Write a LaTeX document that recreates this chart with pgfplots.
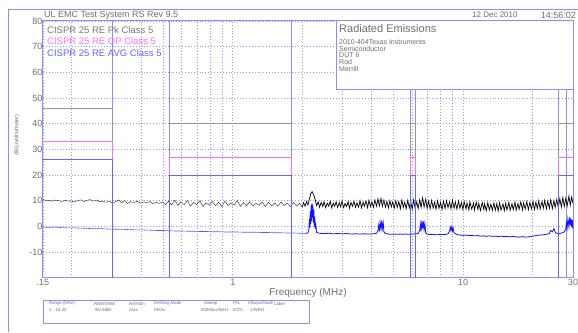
\documentclass[border=0pt]{standalone}
\usepackage{fontspec}
\setmainfont{Liberation Sans}
\usepackage{pgfplots}
\pgfplotsset{compat=1.18}
\definecolor{gridblue}{RGB}{150,150,255}
\definecolor{frameblue}{RGB}{140,140,255}
\definecolor{txtgray}{RGB}{110,110,110}
\definecolor{pkgray}{RGB}{150,150,150}
\definecolor{qpmag}{RGB}{255,110,255}
\definecolor{avgblue}{RGB}{100,100,255}
\definecolor{traceblue}{RGB}{20,20,255}
\begin{document}
\begin{tikzpicture}[x=1pt,y=1pt]
\begin{axis}[
  at={(43pt,54pt)}, anchor=south west,
  scale only axis, width=530pt, height=257pt,
  xmode=log, xmin=0.15, xmax=30, ymin=-20, ymax=80,
  axis line style={frameblue, line width=1pt},
  xtick={0.15,1,10,30}, xticklabels={.15,1,10,30},
  minor xtick={0.2,0.3,0.4,0.5,0.6,0.7,0.8,0.9,2,3,4,5,6,7,8,9,20},
  extra x ticks={0.3,0.53,1.8,5.9,6.2,26,28},
  extra x tick labels={},
  extra x tick style={grid=major, major grid style={frameblue, solid, line width=1pt}},
  ytick={-10,0,10,20,30,40,50,60,70,80},
  yticklabels={-10,0,10,20,30,40,50,60,70,80},
  major tick length=0pt, minor tick length=0pt,
  xmajorgrids, xminorgrids, ymajorgrids,
  major grid style={gridblue, line width=0.9pt, dash pattern=on 0.9pt off 2pt},
  minor grid style={gridblue, line width=0.9pt, dash pattern=on 0.9pt off 2pt},
  tick label style={font=\fontsize{9}{10}\selectfont, text=txtgray},
  yticklabel style={inner sep=0.5pt, anchor=east},
  xticklabel style={inner sep=1pt, anchor=north},
]
% average trace, low band
\addplot[color=traceblue!70!white, line width=0.6pt] coordinates {
(0.150,-0.2)(0.160,-0.3)(0.170,-0.2)(0.181,-0.4)(0.193,-0.5)(0.205,-0.5)(0.219,-0.6)(0.233,-0.7)(0.248,-0.8)(0.264,-0.8)
(0.281,-0.9)(0.299,-1.0)(0.319,-1.1)(0.339,-1.1)(0.361,-1.2)(0.385,-1.3)(0.410,-1.3)(0.436,-1.4)(0.464,-1.5)(0.494,-1.5)
(0.526,-1.6)(0.560,-1.7)(0.596,-1.7)(0.635,-1.8)(0.676,-1.8)(0.719,-1.9)(0.766,-1.9)(0.815,-2.0)(0.868,-2.0)(0.924,-2.1)
(0.983,-2.1)(1.046,-2.1)(1.113,-2.2)(1.184,-2.2)(1.261,-2.2)(1.342,-2.3)(1.429,-2.3)(1.521,-2.4)(1.619,-2.4)(1.723,-2.5)
(1.835,-2.5)(1.953,-2.6)(2.06,-2.6)};
% average trace, high band
\addplot[color=traceblue, line width=0.8pt] coordinates {
(2.06,-2.6)(2.12,-2.5)
(2.14,-1.0)(2.15,3.0)(2.16,-0.5)(2.17,6.0)(2.18,1.0)(2.19,8.5)(2.20,2.0)(2.21,9.0)(2.22,3.5)(2.23,8.2)
(2.24,1.5)(2.25,6.5)(2.26,0.0)(2.27,4.0)(2.28,-1.0)(2.29,1.5)(2.31,-2.2)
(2.38,-2.6)(2.49,-2.7)(2.61,-2.6)(2.73,-2.8)(2.85,-2.7)(2.98,-2.8)(3.12,-2.7)(3.26,-2.9)(3.41,-2.8)(3.57,-2.9)
(3.73,-2.8)(3.90,-2.9)(4.08,-2.8)(4.21,-2.6)(4.27,-1.5)(4.30,0.5)(4.33,-1.8)(4.36,1.8)(4.40,-1.0)(4.43,2.3)
(4.46,-0.8)(4.50,1.6)(4.53,-2.0)(4.60,-2.7)(4.74,-2.9)(4.88,-3.0)(5.03,-2.9)(5.18,-3.0)(5.34,-2.9)(5.50,-3.0)
(5.66,-2.9)(5.84,-3.0)(6.01,-2.9)(6.19,-2.8)(6.38,-2.7)(6.48,-1.5)(6.52,1.0)(6.57,-1.8)(6.62,2.3)(6.67,-0.8)
(6.72,2.0)(6.77,-1.2)(6.82,1.2)(6.88,-2.4)(6.98,-2.9)(7.19,-3.1)(7.41,-3.0)(7.63,-3.2)(7.86,-3.1)(8.10,-3.0)
(8.35,-3.1)(8.60,-2.8)(8.73,-1.8)(8.80,-0.3)(8.86,-1.5)(8.93,0.0)(8.99,-1.8)(9.06,-0.6)(9.13,-2.4)(9.40,-3.1)
(9.69,-3.3)(9.98,-3.4)(10.3,-3.3)(10.6,-3.5)(10.9,-3.4)(11.2,-3.6)(11.6,-3.5)(11.9,-3.7)(12.3,-3.6)(12.6,-3.8)
(13.0,-3.6)(13.4,-3.8)(13.8,-3.7)(14.2,-3.9)(14.6,-3.7)(15.1,-3.9)(15.5,-3.8)(16.0,-4.0)(16.5,-3.8)(17.0,-4.0)
(17.5,-4.1)(18.1,-3.9)(18.6,-4.1)(19.2,-4.0)(19.8,-3.8)(20.4,-3.6)(21.0,-3.4)(21.6,-3.3)(22.3,-3.2)(23.0,-3.0)
(23.7,-2.7)(24.0,-1.5)(24.4,-2.0)(24.8,-0.8)(25.1,-2.2)(25.5,-2.6)(25.9,-2.8)(26.3,-2.7)(26.7,-2.5)(27.1,-2.4)
(27.5,-2.0)(27.9,-1.0)(28.1,1.5)(28.3,-0.5)(28.5,3.0)(28.8,0.0)(29.0,3.6)(29.2,0.5)(29.4,3.2)(29.6,-0.2)
(29.8,2.5)(30.0,-1.0)};
% peak trace, low band
\addplot[color=black!75, line width=0.5pt] coordinates {
(0.150,10.6)(0.155,10.0)(0.160,10.2)(0.165,9.9)(0.170,10.3)(0.175,10.1)(0.181,9.8)(0.187,10.2)(0.193,9.9)(0.199,10.0)
(0.205,9.6)(0.212,10.1)(0.219,10.4)(0.226,9.8)(0.233,10.2)(0.240,10.5)(0.248,9.9)(0.256,10.3)(0.264,9.7)(0.272,9.9)
(0.281,9.5)(0.290,9.8)(0.299,9.2)(0.309,9.6)(0.319,10.4)(0.329,9.3)(0.339,10.1)(0.350,9.0)(0.361,9.7)(0.373,9.4)
(0.385,9.9)(0.397,9.1)(0.410,9.6)(0.423,9.2)(0.436,9.8)(0.450,8.9)(0.464,9.5)(0.479,9.0)(0.494,9.6)(0.510,8.6)
(0.526,9.9)(0.543,8.4)(0.560,10.3)(0.578,8.2)(0.596,9.7)(0.615,8.5)(0.635,10.1)(0.655,8.0)(0.676,9.4)(0.697,8.6)
(0.719,10.0)(0.742,7.9)(0.766,9.2)(0.790,8.3)(0.815,9.8)(0.841,8.1)(0.868,9.5)(0.896,7.8)(0.924,9.9)(0.953,8.2)
(0.983,9.1)(1.014,8.4)(1.046,10.2)(1.079,7.9)(1.113,9.3)(1.148,8.2)(1.184,9.7)(1.222,8.0)(1.261,9.0)(1.301,8.3)
(1.342,9.6)(1.385,7.8)(1.429,9.4)(1.474,8.1)(1.521,9.2)(1.569,7.9)(1.619,9.5)(1.670,8.2)(1.723,9.1)(1.778,7.8)
(1.835,9.4)(1.893,8.0)(1.953,9.2)(2.00,7.6)};
% peak trace, high band
\addplot[color=black, line width=0.7pt] coordinates {
(2.00,7.6)(2.03,9.3)(2.06,7.9)(2.09,9.8)(2.12,8.4)(2.15,10.6)(2.18,12.8)(2.21,13.6)(2.25,12.2)(2.28,10.4)
(2.31,8.2)(2.35,9.6)(2.38,7.5)(2.42,9.4)(2.46,7.8)(2.49,9.7)(2.53,7.4)(2.57,9.1)(2.61,8.0)(2.65,9.8)
(2.69,7.3)(2.73,9.2)(2.77,7.9)(2.81,9.6)(2.85,7.5)(2.90,9.3)(2.94,7.7)(2.98,9.9)(3.03,7.4)(3.07,9.0)
(3.12,7.8)(3.17,9.7)(3.21,7.2)(3.26,9.4)(3.31,7.9)(3.36,9.8)(3.41,7.5)(3.46,9.2)(3.52,7.6)(3.57,10.1)
(3.62,7.3)(3.68,9.5)(3.73,7.9)(3.79,9.9)(3.85,7.4)(3.90,10.2)(3.96,7.8)(4.02,9.6)(4.08,7.5)(4.14,10.4)
(4.21,7.9)(4.27,10.8)(4.33,8.0)(4.40,11.0)(4.46,7.8)(4.53,10.3)(4.60,7.6)(4.67,9.8)(4.74,7.3)(4.81,10.1)
(4.88,7.7)(4.95,9.6)(5.03,7.2)(5.10,10.0)(5.18,7.5)(5.26,9.7)(5.34,6.9)(5.42,10.3)(5.50,7.4)(5.58,9.5)
(5.66,7.0)(5.75,10.2)(5.84,7.3)(5.92,9.8)(6.01,6.8)(6.10,10.4)(6.19,7.2)(6.29,9.6)(6.38,7.0)(6.48,10.5)
(6.57,7.4)(6.67,11.2)(6.77,7.6)(6.88,10.6)(6.98,7.1)(7.08,9.9)(7.19,6.9)(7.30,10.2)(7.41,7.2)(7.52,9.5)
(7.63,6.8)(7.75,10.0)(7.86,7.1)(7.98,9.4)(8.10,6.7)(8.22,9.8)(8.35,7.0)(8.47,10.1)(8.60,7.3)(8.73,9.6)
(8.86,6.9)(8.99,10.3)(9.13,7.2)(9.26,9.5)(9.40,6.8)(9.55,9.9)(9.69,7.1)(9.83,9.4)(9.98,6.6)(10.1,9.7)
(10.3,6.9)(10.4,9.2)(10.6,6.5)(10.7,9.6)(10.9,6.8)(11.1,9.1)(11.2,6.4)(11.4,9.5)(11.6,6.7)(11.7,9.0)
(11.9,6.3)(12.1,9.4)(12.3,6.6)(12.4,8.9)(12.6,6.2)(12.8,9.3)(13.0,6.5)(13.2,8.8)(13.4,6.3)(13.6,9.2)
(13.8,6.4)(14.0,8.9)(14.2,6.1)(14.4,9.3)(14.6,6.4)(14.9,8.8)(15.1,6.2)(15.3,9.1)(15.5,6.5)(15.8,9.4)
(16.0,6.3)(16.3,8.9)(16.5,6.6)(16.8,9.5)(17.0,6.4)(17.3,9.0)(17.5,6.7)(17.8,9.6)(18.1,6.5)(18.3,9.2)
(18.6,6.8)(18.9,9.7)(19.2,6.6)(19.5,9.4)(19.8,6.9)(20.1,9.8)(20.4,6.7)(20.7,9.5)(21.0,7.0)(21.3,10.0)
(21.6,6.8)(22.0,9.7)(22.3,7.1)(22.6,10.2)(23.0,6.9)(23.3,9.9)(23.7,7.2)(24.0,10.4)(24.4,7.0)(24.8,10.1)
(25.1,7.4)(25.5,10.6)(25.9,7.3)(26.3,10.9)(26.7,7.6)(27.1,11.3)(27.5,7.8)(27.9,11.0)(28.3,8.0)(28.8,11.9)
(29.2,8.3)(29.6,11.5)(30.0,9.0)};
% limit lines: peak
\addplot[color=pkgray, line width=1pt] coordinates {(0.15,-20)(0.15,46)(0.3,46)(0.3,-20)};
\addplot[color=pkgray, line width=1pt] coordinates {(0.53,-20)(0.53,40)(1.8,40)(1.8,-20)};
\addplot[color=pkgray, line width=1pt] coordinates {(5.9,-20)(5.9,40)(6.2,40)(6.2,-20)};
\addplot[color=pkgray, line width=1pt] coordinates {(26,-20)(26,40)(30,40)(30,-20)};
% quasi-peak
\addplot[color=qpmag, line width=1pt] coordinates {(0.15,-20)(0.15,33)(0.3,33)(0.3,-20)};
\addplot[color=qpmag, line width=1pt] coordinates {(0.53,-20)(0.53,27)(1.8,27)(1.8,-20)};
\addplot[color=qpmag, line width=1pt] coordinates {(5.9,-20)(5.9,27)(6.2,27)(6.2,-20)};
\addplot[color=qpmag, line width=1pt] coordinates {(26,-20)(26,27)(30,27)(30,-20)};
% average
\addplot[color=avgblue, line width=1pt] coordinates {(0.15,-20)(0.15,26)(0.3,26)(0.3,-20)};
\addplot[color=avgblue, line width=1pt] coordinates {(0.53,-20)(0.53,20)(1.8,20)(1.8,-20)};
\addplot[color=avgblue, line width=1pt] coordinates {(5.9,-20)(5.9,20)(6.2,20)(6.2,-20)};
\addplot[color=avgblue, line width=1pt] coordinates {(26,-20)(26,20)(30,20)(30,-20)};
\end{axis}
% outer frame
\draw[frameblue, line width=1pt] (8,0) -- (8,322) -- (578,322);
% header
\node[anchor=west, inner sep=0, text=txtgray, font=\fontsize{9}{10}\selectfont] at (44,317) {UL EMC Test System RS Rev 9.5};
\node[anchor=west, inner sep=0, text=txtgray, font=\fontsize{8}{9}\selectfont] at (472,317) {12 Dec 2010};
\node[anchor=east, inner sep=0, text=txtgray, font=\fontsize{9}{10}\selectfont] at (576,317) {14:56:02};
% limit legend
\node[anchor=west, inner sep=0, text=pkgray!80!black, font=\fontsize{9.5}{10}\selectfont] at (47,302) {CISPR 25 RE Pk Class 5};
\node[anchor=west, inner sep=0, text=qpmag, font=\fontsize{9.5}{10}\selectfont] at (47,290.5) {CISPR 25 RE QP Class 5};
\node[anchor=west, inner sep=0, text=avgblue, font=\fontsize{9.5}{10}\selectfont] at (47,279) {CISPR 25 RE AVG Class 5};
% info box
\draw[frameblue, fill=white, line width=1pt] (336,242) rectangle (573,311);
\node[anchor=west, inner sep=0, text=txtgray, font=\fontsize{11}{12}\selectfont] at (339,303) {Radiated Emissions};
\node[anchor=west, inner sep=0, text=txtgray, font=\fontsize{7}{8}\selectfont] at (339,290) {2010-404Texas Instruments};
\node[anchor=west, inner sep=0, text=txtgray, font=\fontsize{7}{8}\selectfont] at (339,283) {Semiconductor};
\node[anchor=west, inner sep=0, text=txtgray, font=\fontsize{7}{8}\selectfont] at (339,276.5) {DUT 6};
\node[anchor=west, inner sep=0, text=txtgray, font=\fontsize{7}{8}\selectfont] at (339,270) {Rod};
\node[anchor=west, inner sep=0, text=txtgray, font=\fontsize{7}{8}\selectfont] at (339,262.5) {Merrill};
% axis labels
\node[text=txtgray, font=\fontsize{10}{11}\selectfont] at (308,39) {Frequency (MHz)};
\node[rotate=90, text=txtgray, font=\fontsize{5.5}{6}\selectfont] at (17,197) {dB(uVolts/meter)};
% settings table
\draw[frameblue, line width=1pt] (43,9) rectangle (309,32);
\begin{scope}[every node/.style={anchor=west, inner sep=0, text=txtgray, font=\fontsize{4.3}{5}\selectfont}]
\node at (49,28.5) {Range (MHz)};
\node at (94,28.5) {RBW/VBW};
\node at (129,28.5) {Ref/Attn};
\node at (154,28.5) {Det/Avg Mode};
\node at (204,28.5) {Sweep};
\node at (233,28.5) {Pts.};
\node at (248,28.5) {\#Swps/Mode};
\node at (274,28.5) {Label};
\node at (49,22) {1: .15-30};
\node at (95,22) {9k/-6dB/-};
\node at (129,22) {Auto};
\node at (154,22) {Pk/Av};
\node at (201,22) {50000us/5kHz};
\node at (233,22) {5070};
\node at (250,22) {1/WRIT};
\node at (276,22) {-};
\end{scope}
\pgfresetboundingbox
\path[use as bounding box] (0,0) rectangle (578,332);
\end{tikzpicture}
\end{document}
